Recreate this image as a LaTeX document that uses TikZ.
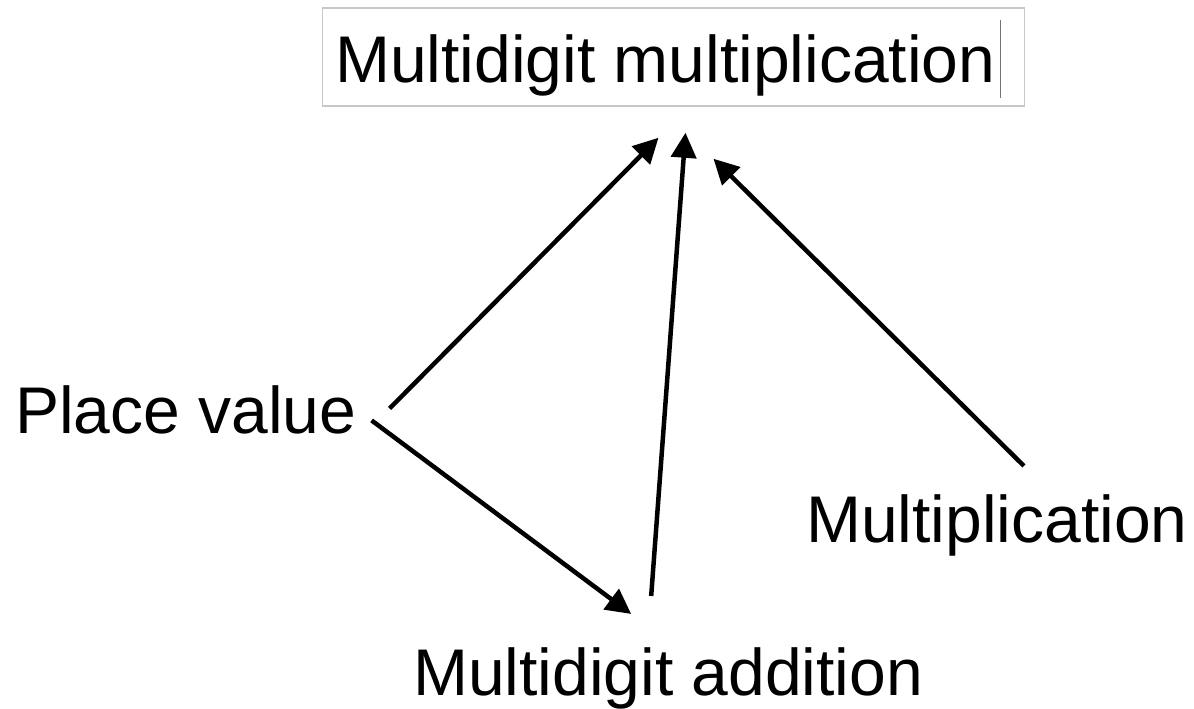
\documentclass[tikz,border=0pt]{standalone}
\usepackage{fontspec}
\setmainfont{Liberation Sans}
\usetikzlibrary{arrows.meta}
\tikzset{
  % look of the concept labels
  concept/.style={font=\fontsize{66}{72}\selectfont, inner sep=0pt, anchor=base west},
  % look of the prerequisite arrows
  needs/.style={line width=4.5pt, -{Triangle[length=25pt,width=25pt]}},
}
\begin{document}
\begin{tikzpicture}[x=1pt,y=-1pt]

  % fix the page size
  \useasboundingbox (0,0) rectangle (1194,709);

  % the goal concept in its box
  \node[draw=black!22, line width=1.5pt, minimum width=702pt, minimum height=98pt,
        inner sep=0pt] (goal) at (673.5,57) {};
  \node[concept] (goaltext) at (335,82) {Multidigit multiplication};
  % text cursor in the box
  \draw[black!55, line width=1.5pt] ([xshift=5pt,yshift=62pt]goaltext.base east)
    -- ([xshift=5pt,yshift=-16pt]goaltext.base east);

  % the prerequisite concepts
  \node[concept] (place) at (15,433) {Place value};
  \node[concept] (mult) at (806,542) {Multiplication};
  \node[concept] (add) at (413,695) {Multidigit addition};

  % arrows from prerequisites to what they support
  \draw[needs] ([shift={(33,-1)}]place.east) -- ([shift={(-15,31)}]goal.south);
  \draw[needs] ([shift={(15,11)}]place.east) -- ([shift={(-37,-33)}]add.north);
  \draw[needs] ([shift={(-17,-51)}]add.north) -- ([shift={(12,26)}]goal.south);
  \draw[needs] ([shift={(27,-28)}]mult.north) -- ([shift={(40,52)}]goal.south);

\end{tikzpicture}
\end{document}
